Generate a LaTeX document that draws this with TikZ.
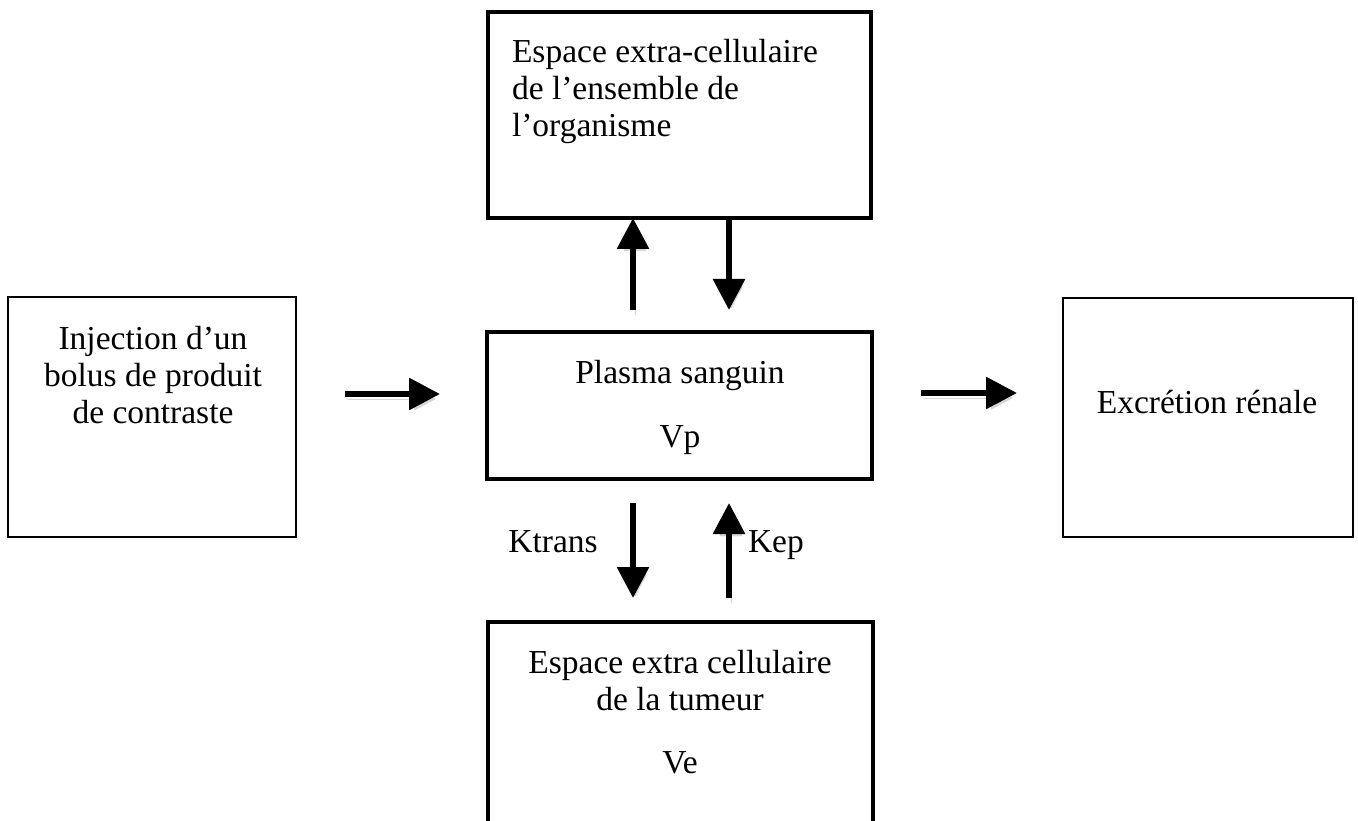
\documentclass[tikz,border=0pt]{standalone}
\usepackage{fontspec}
\setmainfont{Liberation Serif}
\usetikzlibrary{arrows.meta,calc}
\tikzset{
  bigbox/.style={draw, line width=4pt, inner sep=0pt, outer sep=0pt},
  sidebox/.style={draw, line width=2.5pt, inner sep=0pt, outer sep=0pt},
  txt/.style={inner sep=0pt, outer sep=0pt, font=\fontsize{33.5}{37}\selectfont},
  flow/.style={line width=6pt, -{Triangle[length=31pt,width=31pt]},
    preaction={draw=black!25, opacity=0.6, transform canvas={shift={(2pt,-5pt)}}}},
}
\begin{document}
\begin{tikzpicture}[x=1pt,y=-1pt]
\useasboundingbox (0,0) rectangle (1358,821);
\clip (0,0) rectangle (1358,821);
\fill[white] (0,0) rectangle (1358,821);
% boxes
\node[bigbox, minimum width=383pt, minimum height=206pt] (top) at (679.5,115) {};
\node[bigbox, minimum width=385pt, minimum height=147pt] (mid) at (679.5,405.5) {};
\node[bigbox, minimum width=385pt, minimum height=214pt] (bot) at (680.5,729) {};
\node[sidebox, minimum width=288pt, minimum height=240pt] (left) at (152,417) {};
\node[sidebox, minimum width=290pt, minimum height=239pt] (right) at (1208,417.5) {};
% texts (base anchor = baseline of the last line)
\node[txt, anchor=base west, align=left] (ttop) at (512,137) {Espace extra-cellulaire\\de l’ensemble de\\l’organisme};
\node[txt, anchor=base, align=center] (tmid) at (680,447) {Plasma sanguin\\[27pt]Vp};
\node[txt, anchor=base, align=center] (tbot) at (680,773) {Espace extra cellulaire\\de la tumeur\\[26pt]Ve};
\node[txt, anchor=base, align=center] (tleft) at (153,423) {Injection d’un\\bolus de produit\\de contraste};
\node[txt, anchor=base] (tright) at (1207,413) {Excrétion rénale};
\node[txt, anchor=base] (ktrans) at (553,552) {Ktrans};
\node[txt, anchor=base west] (kep) at (748,552) {Kep};
% connector end points
\coordinate (a1) at (345,394);
\coordinate (a2) at (440,394);
\coordinate (b1) at (921,393);
\coordinate (b2) at (1017,393);
\coordinate (u1) at (633,310);
\coordinate (u2) at (633,218);
\coordinate (d1) at (729,218);
\coordinate (d2) at (729,310);
\coordinate (k1) at (633,503);
\coordinate (k2) at (633,598);
\coordinate (e1) at (729,598);
\coordinate (e2) at (729,503);
% arrows
\draw[flow] (a1) -- (a2);
\draw[flow] (b1) -- (b2);
\draw[flow] (u1) -- (u2);
\draw[flow] (d1) -- (d2);
\draw[flow] (k1) -- (k2);
\draw[flow] (e1) -- (e2);
\end{tikzpicture}
\end{document}
